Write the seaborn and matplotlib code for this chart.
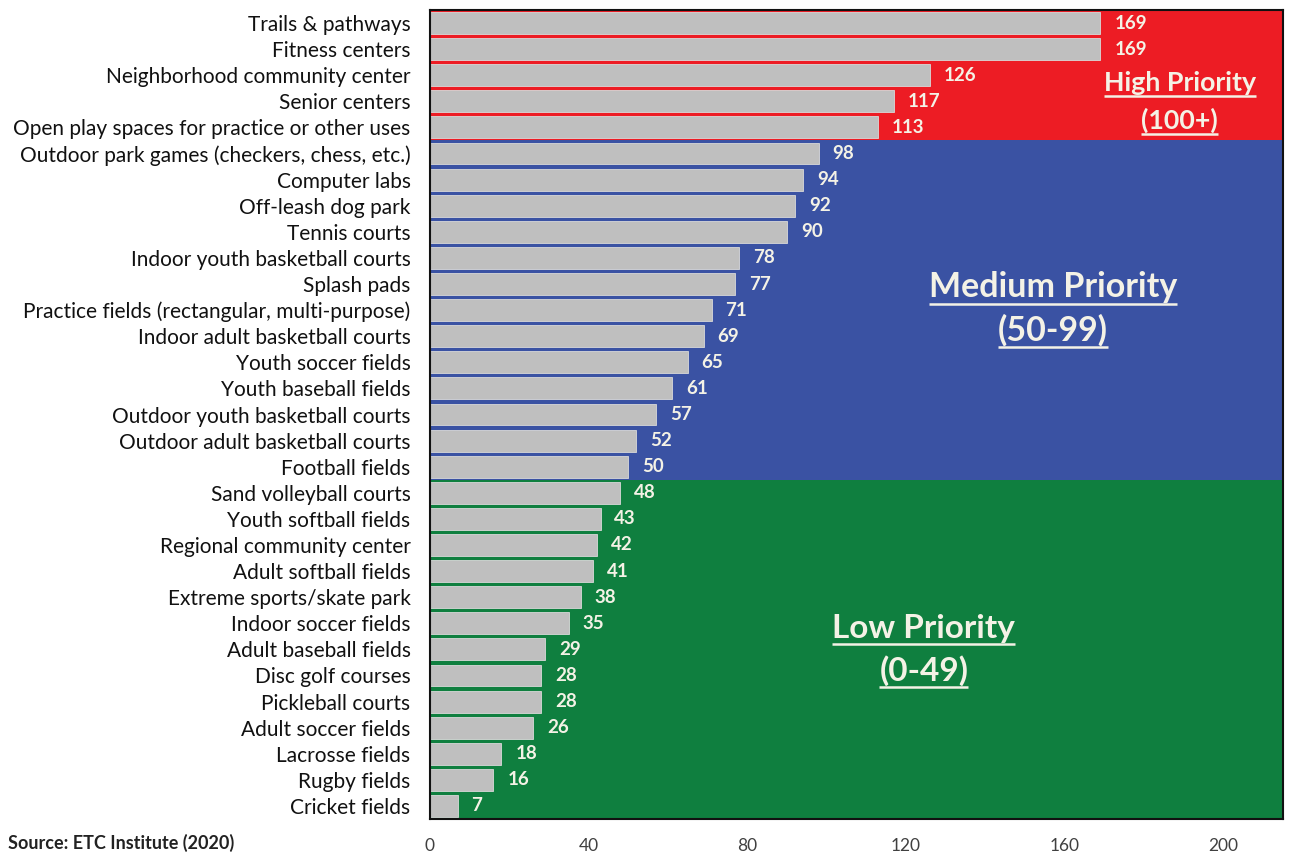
import matplotlib
matplotlib.use("Agg")
import matplotlib.pyplot as plt
import seaborn as sns
import pandas as pd

# ── Data ────────────────────────────────────────────────────
facilities = [
    "Trails & pathways", "Fitness centers", "Neighborhood community center",
    "Senior centers", "Open play spaces for practice or other uses",
    "Outdoor park games (checkers, chess, etc.)", "Computer labs",
    "Off-leash dog park", "Tennis courts", "Indoor youth basketball courts",
    "Splash pads", "Practice fields (rectangular, multi-purpose)",
    "Indoor adult basketball courts", "Youth soccer fields",
    "Youth baseball fields", "Outdoor youth basketball courts",
    "Outdoor adult basketball courts", "Football fields",
    "Sand volleyball courts", "Youth softball fields",
    "Regional community center", "Adult softball fields",
    "Extreme sports/skate park", "Indoor soccer fields",
    "Adult baseball fields", "Disc golf courses", "Pickleball courts",
    "Adult soccer fields", "Lacrosse fields", "Rugby fields", "Cricket fields",
]
scores = [169, 169, 126, 117, 113, 98, 94, 92, 90, 78, 77, 71, 69, 65, 61,
          57, 52, 50, 48, 43, 42, 41, 38, 35, 29, 28, 28, 26, 18, 16, 7]
x_ticks = [0, 40, 80, 120, 160, 200]

# priority bands
band_names = ["High Priority", "Medium Priority", "Low Priority"]
band_ranges = ["(100+)", "(50-99)", "(0-49)"]
band_rows = [(0, 4), (5, 17), (18, 30)]
band_colors = ["#ED1C24", "#3A52A3", "#0F7F3F"]

df = pd.DataFrame({"facility": facilities, "score": scores})

# ── Plot ────────────────────────────────────────────────────
sns.set_theme(style="white")
plt.rcParams["font.family"] = ["Lato", "DejaVu Sans"]

fig = plt.figure(figsize=(12.97, 8.55), dpi=100)
ax = fig.add_axes([0.3315, 0.0421, 0.9892 - 0.3315, 0.9883 - 0.0421])

for (r0, r1), col in zip(band_rows, band_colors):
    ax.axhspan(r0 - 0.5, r1 + 0.5, color=col, zorder=0, lw=0)

sns.barplot(data=df, x="score", y="facility", color="#BFBFBF",
            saturation=1, width=0.84, ax=ax, zorder=2,
            edgecolor="#D9D9D9", linewidth=0.6)

for i, v in enumerate(scores):
    ax.text(v + 3.5, i, str(v), va="center", ha="left", fontsize=13.5,
            fontweight="bold", color="#F4F2E6", zorder=3)

ax.set_xlim(0, 215)
ax.set_ylim(len(facilities) - 0.5, -0.5)
ax.set_xticks(x_ticks)
ax.tick_params(axis="x", labelsize=12.5, labelcolor="#404040", length=0, pad=14)
ax.tick_params(axis="y", labelsize=15, labelcolor="#111111", length=0, pad=14)
ax.set_xlabel("")
ax.set_ylabel("")
for s in ax.spines.values():
    s.set_visible(True)
    s.set_color("#111111")
    s.set_linewidth(1.5)

# band annotations (underlined): x centre, row of name, row of range, size
ann = [
    (189, 2.3, 3.72, 19.3),
    (157, 10.1, 11.76, 24.5),
    (124.5, 23.2, 24.8, 24),
]
texts = []
for (xc, y1, y2, fs), name, rng in zip(ann, band_names, band_ranges):
    for yy, s in ((y1, name), (y2, rng)):
        t = ax.text(xc, yy, s, ha="center", va="center", fontsize=fs,
                    fontweight="bold", color="#F4F2E6", zorder=4)
        texts.append(t)

fig.canvas.draw()
renderer = fig.canvas.get_renderer()
inv = ax.transData.inverted()
for t in texts:
    bb = t.get_window_extent(renderer)
    (x0, yb), (x1, _) = inv.transform([(bb.x0, bb.y0 - 1), (bb.x1, bb.y0)])
    ax.plot([x0, x1], [yb, yb], color="#F4F2E6", lw=1.8, zorder=4,
            solid_capstyle="butt")

fig.text(0.006, 0.003, "Source: ETC Institute (2020)", fontsize=13,
         fontweight="bold", color="#222222", ha="left", va="bottom")

fig.savefig("out.png", dpi=100)
